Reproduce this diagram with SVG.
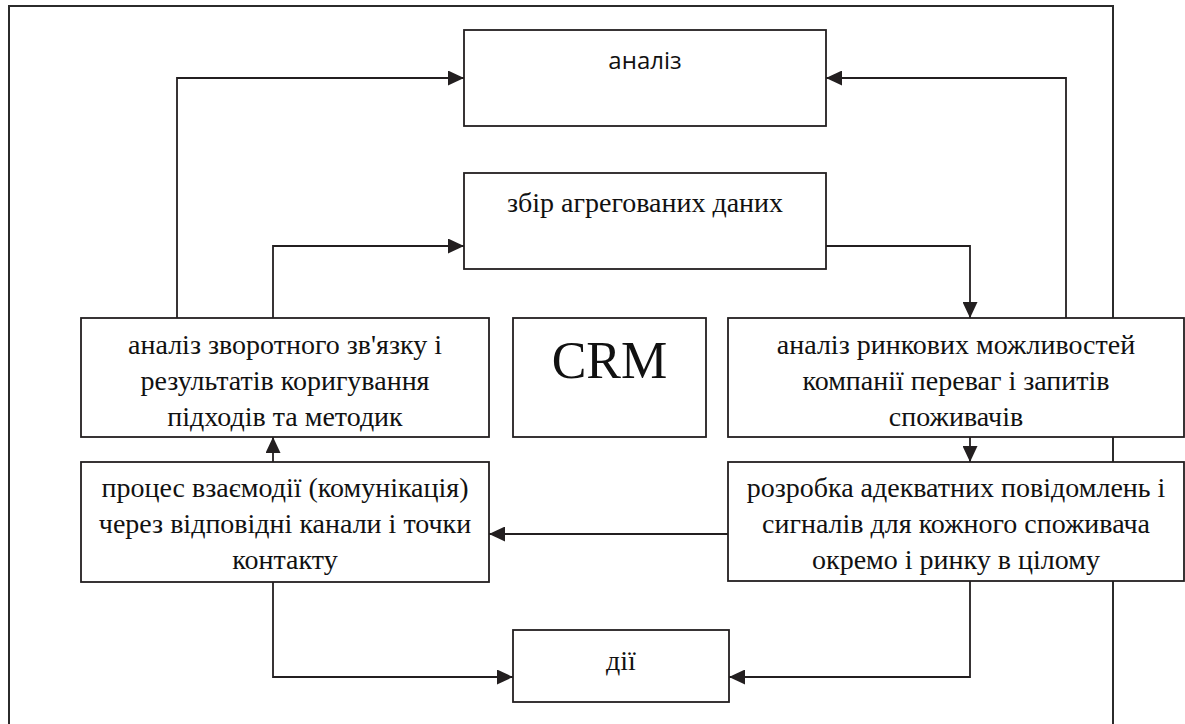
<svg xmlns="http://www.w3.org/2000/svg" width="1185" height="724" viewBox="0 0 1185 724">
<style>
.box{fill:#fff;stroke:#231f20;stroke-width:1.8}
.ln{fill:none;stroke:#231f20;stroke-width:1.8}
.fr{fill:none;stroke:#2b2b2b;stroke-width:2}
.t{font-size:25px;fill:#111;text-anchor:middle}
.s{font-size:24px;fill:#111;text-anchor:middle}
.crm{font-size:52px;fill:#111;text-anchor:middle}
</style>
<defs>
<marker id="arr" viewBox="0 0 16 15" refX="16" refY="7.5" markerWidth="16" markerHeight="15" markerUnits="userSpaceOnUse" orient="auto">
<path d="M0,0 L16,7.5 L0,15 z" fill="#231f20"/>
</marker>
</defs>
<rect width="1185" height="724" fill="#fff"/>
<g id="frame">
<path class="fr" d="M9,724 V6 H1113 V724"/>
</g>
<g id="connectors">
<path class="ln" d="M177,318 V78 H464" marker-end="url(#arr)"/>
<path class="ln" d="M273,318 V246 H464" marker-end="url(#arr)"/>
<path class="ln" d="M826,246 H970 V318" marker-end="url(#arr)"/>
<path class="ln" d="M1066,318 V78 H826" marker-end="url(#arr)"/>
<path class="ln" d="M970,437 V462" marker-end="url(#arr)"/>
<path class="ln" d="M273,462 V437" marker-end="url(#arr)"/>
<path class="ln" d="M728,534 H489" marker-end="url(#arr)"/>
<path class="ln" d="M273,582 V677 H513" marker-end="url(#arr)"/>
<path class="ln" d="M970,581 V677 H729" marker-end="url(#arr)"/>
</g>
<g id="analiz">
<rect class="box" x="464" y="30" width="362" height="96"/>
<text class="s" x="645" y="69" font-family="Open Sans, Liberation Sans, sans-serif">аналіз</text>
</g>
<g id="zbir" font-family="Liberation Serif, serif">
<rect class="box" x="464" y="173" width="362" height="96"/>
<text class="t" transform="translate(645,212) scale(1.12)">збір агрегованих даних</text>
</g>
<g id="feedback" font-family="Liberation Serif, serif">
<rect class="box" x="81" y="318" width="408" height="119"/>
<text class="t" transform="translate(285,354) scale(1.12)">аналіз зворотного зв'язку і</text>
<text class="t" transform="translate(285,390) scale(1.12)">результатів коригування</text>
<text class="t" transform="translate(285,426) scale(1.12)">підходів та методик</text>
</g>
<g id="crm" font-family="Liberation Serif, serif">
<rect class="box" x="513" y="318" width="193" height="119"/>
<text class="crm" x="609.5" y="378">CRM</text>
</g>
<g id="market" font-family="Liberation Serif, serif">
<rect class="box" x="728" y="318" width="456" height="119"/>
<text class="t" transform="translate(956,354) scale(1.12)">аналіз ринкових можливостей</text>
<text class="t" transform="translate(956,390) scale(1.12)">компанії переваг і запитів</text>
<text class="t" transform="translate(956,426) scale(1.12)">споживачів</text>
</g>
<g id="process" font-family="Liberation Serif, serif">
<rect class="box" x="81" y="462" width="408" height="120"/>
<text class="t" transform="translate(285,497) scale(1.12)">процес взаємодії (комунікація)</text>
<text class="t" transform="translate(285,533) scale(1.12)">через відповідні канали і точки</text>
<text class="t" transform="translate(285,569) scale(1.12)">контакту</text>
</g>
<g id="messages" font-family="Liberation Serif, serif">
<rect class="box" x="728" y="462" width="456" height="119"/>
<text class="t" transform="translate(956,497) scale(1.12)">розробка адекватних повідомлень і</text>
<text class="t" transform="translate(956,533) scale(1.12)">сигналів для кожного споживача</text>
<text class="t" transform="translate(956,569) scale(1.12)">окремо і ринку в цілому</text>
</g>
<g id="dii" font-family="Liberation Serif, serif">
<rect class="box" x="513" y="630" width="216" height="72"/>
<text class="t" transform="translate(621,670) scale(1.12)">дії</text>
</g>
</svg>
